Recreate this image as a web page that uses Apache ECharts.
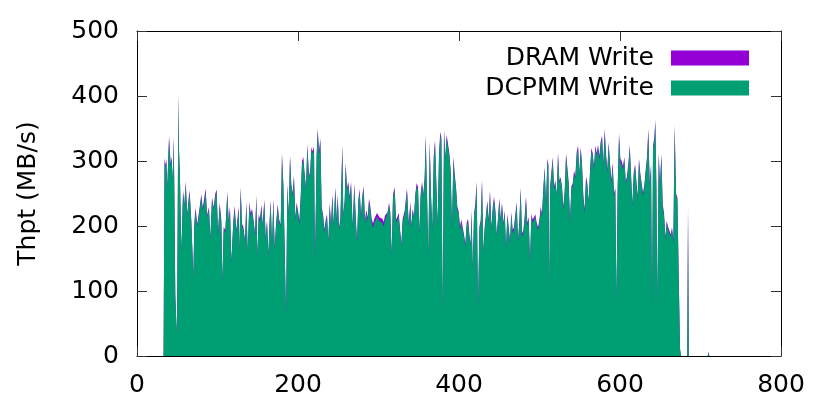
<!DOCTYPE html>
<html>
<head>
<meta charset="utf-8">
<title>Thpt</title>
<script src="https://cdn.jsdelivr.net/npm/echarts@6/dist/echarts.min.js"></script>
<style>
  html, body { margin: 0; padding: 0; background: #fff; }
  #chart { width: 830px; height: 415px; }
</style>
</head>
<body>
<div id="chart"></div>
<script>
// time (s) of each sample
var seconds = [
  33.0, 34.2, 35.2, 36.4, 37.7, 38.5, 39.8, 41.8, 43.1, 44.3,
  45.6, 46.4, 47.6, 48.9, 49.7, 50.5, 51.4, 52.2, 53.4, 55.1,
  57.2, 58.8, 60.5, 62.5, 64.2, 65.4, 67.5, 70.0, 71.2, 72.5,
  75.0, 77.4, 79.9, 81.6, 82.8, 85.3, 87.0, 89.4, 91.1, 93.2,
  95.2, 97.3, 99.0, 100.6, 102.7, 104.8, 106.0, 107.7, 109.7, 112.2,
  113.9, 115.5, 117.2, 119.7, 121.3, 123.4, 126.3, 127.1, 128.8, 130.5,
  132.1, 134.2, 135.8, 137.5, 139.6, 141.2, 142.9, 144.9, 146.6, 148.3,
  149.5, 151.2, 152.8, 154.5, 156.1, 158.2, 159.8, 161.5, 163.2, 164.8,
  166.1, 167.7, 169.4, 171.0, 172.7, 174.8, 176.4, 178.5, 180.1, 181.8,
  183.4, 185.1, 186.8, 188.4, 190.1, 191.7, 193.4, 195.0, 196.7, 198.3,
  200.0, 201.7, 203.3, 205.0, 206.6, 208.3, 209.9, 211.6, 213.3, 214.9,
  216.6, 218.2, 219.9, 221.1, 223.2, 224.5, 226.1, 227.8, 229.4, 231.1,
  232.7, 234.4, 236.0, 237.7, 239.4, 241.0, 242.7, 244.3, 246.4, 248.1,
  249.3, 251.0, 252.6, 255.1, 256.3, 258.0, 259.2, 260.9, 262.5, 264.2,
  265.9, 267.9, 270.0, 271.7, 273.3, 275.0, 276.6, 278.3, 279.9, 281.6,
  283.2, 284.9, 286.6, 288.2, 289.9, 291.5, 293.2, 294.8, 296.5, 298.1,
  299.8, 301.5, 303.1, 304.8, 306.4, 308.1, 309.7, 311.4, 313.1, 314.7,
  316.4, 318.0, 320.1, 321.8, 323.4, 325.1, 328.4, 330.0, 332.5, 335.4,
  337.5, 339.6, 340.8, 342.5, 344.1, 345.8, 347.4, 349.1, 350.7, 352.4,
  354.1, 355.7, 357.4, 358.6, 360.3, 361.9, 363.6, 365.2, 366.9, 368.6,
  370.2, 371.9, 373.5, 375.2, 376.8, 378.1, 379.7, 381.4, 383.0, 384.7,
  386.4, 388.0, 389.7, 391.3, 393.0, 394.6, 396.3, 397.9, 399.6, 401.3,
  402.9, 404.6, 406.2, 407.9, 409.5, 411.2, 412.9, 414.5, 415.6, 417.0,
  418.7, 420.3, 422.0, 423.6, 425.3, 427.0, 428.6, 430.3, 431.9, 433.6,
  435.2, 436.9, 438.5, 440.2, 441.9, 443.5, 445.2, 446.8, 448.5, 450.1,
  451.8, 453.4, 455.1, 456.8, 458.4, 460.1, 461.7, 463.4, 465.0, 466.7,
  468.3, 470.0, 471.7, 473.3, 475.0, 476.6, 478.3, 479.9, 481.6, 483.2,
  484.9, 486.6, 488.2, 489.9, 491.5, 493.2, 494.8, 496.5, 498.2, 499.8,
  501.5, 503.1, 504.8, 506.4, 508.1, 509.8, 511.0, 512.2, 513.1, 514.7,
  516.4, 518.1, 519.7, 521.4, 523.0, 524.7, 526.3, 528.0, 529.6, 531.3,
  533.0, 534.6, 536.3, 537.9, 539.6, 541.2, 542.9, 544.5, 546.2, 547.9,
  549.5, 551.2, 552.8, 554.5, 556.1, 557.8, 559.4, 561.1, 562.8, 564.4,
  566.1, 567.7, 569.4, 571.0, 572.7, 574.4, 576.0, 577.7, 579.3, 581.0,
  582.6, 584.3, 585.9, 587.6, 589.3, 590.9, 592.6, 594.2, 595.5, 597.1,
  598.8, 600.4, 602.1, 603.7, 605.4, 607.1, 608.7, 610.8, 612.1, 613.7,
  615.4, 617.0, 618.7, 620.3, 622.0, 623.6, 625.3, 627.0, 628.6, 630.3,
  631.9, 633.6, 635.2, 636.9, 638.6, 639.8, 641.0, 642.7, 643.9, 645.2,
  646.4, 648.1, 649.7, 651.4, 653.0, 654.7, 656.4, 658.0, 659.7, 661.3,
  663.0, 664.6, 666.3, 667.9, 669.6, 671.3, 672.9, 674.6, 675.8, 683.5,
  684.5, 685.5, 709.0, 710.0, 711.0
]

// DCPMM write throughput (MB/s)
var dcpmmWrite = [
  0, 300, 290, 298, 258, 290, 333, 292, 302, 268,
  333, 250, 92, 50, 35, 200, 398, 315, 271, 159,
  251, 230, 264, 215, 240, 251, 205, 122, 200, 222,
  199, 220, 245, 225, 231, 253, 214, 225, 179, 240,
  225, 245, 253, 185, 231, 205, 113, 195, 190, 248,
  205, 225, 143, 205, 225, 190, 225, 159, 256, 199,
  195, 175, 233, 159, 233, 215, 222, 205, 185, 243,
  151, 214, 205, 228, 199, 236, 179, 205, 154, 207,
  236, 169, 238, 164, 199, 228, 207, 199, 307, 261,
  169, 60, 261, 215, 305, 261, 245, 274, 210, 231,
  220, 202, 240, 295, 302, 277, 256, 321, 282, 274,
  316, 311, 318, 143, 307, 346, 309, 330, 225, 215,
  190, 205, 215, 174, 231, 199, 245, 199, 256, 205,
  245, 195, 205, 321, 215, 236, 292, 256, 264, 240,
  264, 197, 261, 210, 174, 236, 253, 210, 243, 256,
  205, 220, 207, 238, 225, 205, 197, 205, 202, 214,
  215, 207, 205, 205, 199, 210, 214, 215, 231, 215,
  154, 243, 256, 205, 210, 215, 169, 207, 218, 254,
  200, 233, 197, 223, 212, 246, 261, 256, 189, 246,
  264, 246, 272, 336, 246, 153, 326, 246, 194, 302,
  328, 261, 200, 308, 341, 331, 66, 344, 302, 336,
  338, 308, 282, 194, 302, 277, 256, 225, 218, 194,
  205, 205, 184, 169, 200, 207, 184, 169, 220, 133,
  215, 230, 264, 71, 194, 205, 269, 158, 194, 215,
  236, 205, 251, 194, 225, 241, 220, 184, 210, 238,
  207, 233, 200, 220, 164, 215, 215, 174, 218, 189,
  194, 215, 233, 174, 205, 256, 184, 189, 210, 241,
  200, 210, 143, 215, 205, 210, 215, 200, 194, 205,
  225, 215, 256, 287, 230, 300, 292, 102, 256, 277,
  302, 256, 266, 246, 308, 266, 272, 256, 225, 251,
  308, 305, 261, 205, 256, 261, 282, 272, 308, 320,
  277, 318, 292, 241, 220, 272, 261, 236, 282, 315,
  308, 287, 318, 308, 320, 302, 326, 336, 292, 344,
  308, 282, 326, 292, 266, 292, 246, 256, 81, 256,
  338, 300, 297, 287, 302, 266, 272, 297, 321, 277,
  230, 277, 292, 266, 241, 300, 277, 261, 246, 261,
  282, 302, 344, 261, 292, 71, 318, 333, 359, 256,
  81, 308, 261, 308, 230, 215, 179, 205, 194, 194,
  184, 194, 174, 351, 246, 241, 123, 10, 0, 0,
  216, 0, 0, 5, 0
]

// DRAM write throughput (MB/s)
var dramWrite = [
  0, 5, 4, 5, 3, 4, 6, 4, 5, 3,
  5, 4, 2, 2, 1, 3, 5, 4, 4, 3,
  4, 3, 5, 3, 4, 4, 3, 2, 4, 6,
  4, 5, 4, 3, 6, 5, 3, 4, 3, 4,
  4, 5, 3, 4, 5, 4, 2, 4, 3, 5,
  4, 5, 3, 4, 6, 4, 5, 3, 4, 4,
  4, 3, 5, 3, 4, 5, 4, 3, 4, 5,
  3, 4, 6, 5, 4, 5, 3, 4, 3, 5,
  4, 3, 5, 3, 4, 6, 4, 3, 5, 4,
  3, 1, 4, 5, 4, 3, 6, 4, 3, 5,
  4, 6, 4, 5, 4, 3, 4, 5, 4, 3,
  5, 4, 4, 2, 5, 4, 6, 5, 4, 3,
  5, 4, 3, 4, 5, 3, 4, 5, 4, 6,
  4, 3, 5, 4, 3, 4, 5, 3, 4, 5,
  4, 3, 5, 4, 3, 5, 4, 6, 4, 5,
  4, 5, 6, 4, 5, 6, 7, 6, 7, 6,
  7, 6, 7, 6, 7, 6, 5, 6, 5, 6,
  3, 5, 4, 5, 4, 5, 3, 4, 5, 4,
  5, 4, 5, 4, 3, 4, 5, 4, 3, 4,
  4, 3, 5, 4, 3, 2, 4, 3, 4, 5,
  4, 3, 4, 5, 4, 5, 1, 4, 5, 4,
  5, 4, 3, 4, 5, 4, 4, 5, 4, 6,
  5, 4, 3, 4, 5, 4, 3, 4, 5, 2,
  4, 5, 4, 1, 5, 4, 3, 4, 5, 4,
  3, 5, 4, 5, 3, 4, 5, 3, 4, 5,
  4, 3, 5, 4, 3, 4, 5, 3, 4, 5,
  4, 3, 4, 5, 4, 3, 5, 4, 5, 4,
  5, 4, 3, 4, 5, 4, 3, 5, 4, 4,
  5, 4, 3, 4, 5, 4, 3, 2, 4, 5,
  4, 5, 4, 3, 5, 4, 3, 4, 5, 3,
  4, 5, 6, 4, 5, 4, 3, 5, 6, 4,
  5, 3, 4, 5, 6, 4, 5, 3, 4, 5,
  4, 5, 6, 4, 5, 6, 4, 3, 5, 6,
  4, 5, 3, 4, 5, 6, 4, 3, 1, 4,
  5, 4, 3, 5, 4, 3, 4, 5, 4, 3,
  4, 5, 3, 4, 5, 4, 3, 4, 5, 3,
  4, 5, 6, 4, 3, 1, 5, 4, 5, 4,
  1, 5, 4, 3, 4, 5, 4, 3, 5, 4,
  3, 4, 5, 5, 4, 3, 2, 1, 0, 0,
  20, 0, 0, 2, 0
]

var xTicks = { min: 0, max: 800, step: 200 }
var yTicks = { min: 0, max: 500, step: 100 }

var chart = echarts.init(document.getElementById('chart'), null, { renderer: 'canvas' })

var font = 'DejaVu Sans'
var fontSize = 25
var axisLineStyle = { color: '#000', width: 1 }
var tickStyle = { color: '#333', width: 1 }

// gnuplot-style stacking: DRAM is drawn as the top band over DCPMM
var dcpmmPts = seconds.map(function (s, i) { return [s, dcpmmWrite[i]] })
var totalPts = seconds.map(function (s, i) { return [s, dcpmmWrite[i] + dramWrite[i]] })

var option = {
  animation: false,
  backgroundColor: '#fff',
  textStyle: { fontFamily: font },
  grid: { left: 137, right: 49, top: 31, bottom: 59, containLabel: false },
  legend: {
    orient: 'vertical',
    right: 76,
    top: 38,
    align: 'right',
    itemWidth: 78,
    itemHeight: 15,
    itemGap: 0,
    icon: 'rect',
    selectedMode: false,
    data: ['DRAM Write', 'DCPMM Write'],
    textStyle: { fontFamily: font, fontSize: fontSize, color: '#000', lineHeight: 30, padding: [0, 12, 0, 0] }
  },
  xAxis: [
    {
      type: 'value',
      min: xTicks.min,
      max: xTicks.max,
      interval: xTicks.step,
      axisLine: { show: true, onZero: false, lineStyle: axisLineStyle },
      axisTick: { show: true, inside: true, length: 10, lineStyle: tickStyle },
      axisLabel: { fontFamily: font, fontSize: fontSize, color: '#000', margin: 17 },
      splitLine: { show: false }
    },
    {
      type: 'value',
      position: 'top',
      min: xTicks.min,
      max: xTicks.max,
      interval: xTicks.step,
      axisLine: { show: true, onZero: false, lineStyle: axisLineStyle },
      axisTick: { show: true, inside: true, length: 10, lineStyle: tickStyle },
      axisLabel: { show: false },
      splitLine: { show: false }
    }
  ],
  yAxis: [
    {
      type: 'value',
      min: yTicks.min,
      max: yTicks.max,
      interval: yTicks.step,
      name: 'Thpt (MB/s)',
      nameLocation: 'middle',
      nameGap: 96,
      nameTextStyle: { fontFamily: font, fontSize: fontSize, color: '#000' },
      axisLine: { show: true, onZero: false, lineStyle: axisLineStyle },
      axisTick: { show: true, inside: true, length: 10, lineStyle: tickStyle },
      axisLabel: { fontFamily: font, fontSize: fontSize, color: '#000', margin: 18 },
      splitLine: { show: false }
    },
    {
      type: 'value',
      position: 'right',
      min: yTicks.min,
      max: yTicks.max,
      interval: yTicks.step,
      axisLine: { show: true, onZero: false, lineStyle: axisLineStyle },
      axisTick: { show: true, inside: true, length: 10, lineStyle: tickStyle },
      axisLabel: { show: false },
      splitLine: { show: false }
    }
  ],
  series: [
    {
      name: 'DRAM Write',
      type: 'line',
      xAxisIndex: 0,
      yAxisIndex: 0,
      data: totalPts,
      showSymbol: false,
      symbol: 'none',
      silent: true,
      lineStyle: { width: 0 },
      itemStyle: { color: '#9400d3' },
      areaStyle: { color: '#9400d3', opacity: 1, origin: 'start' },
      z: 2
    },
    {
      name: 'DCPMM Write',
      type: 'line',
      xAxisIndex: 0,
      yAxisIndex: 0,
      data: dcpmmPts,
      showSymbol: false,
      symbol: 'none',
      silent: true,
      lineStyle: { width: 0 },
      itemStyle: { color: '#009e73' },
      areaStyle: { color: '#009e73', opacity: 1, origin: 'start' },
      z: 3
    }
  ]
}

chart.setOption(option)
</script>
</body>
</html>
